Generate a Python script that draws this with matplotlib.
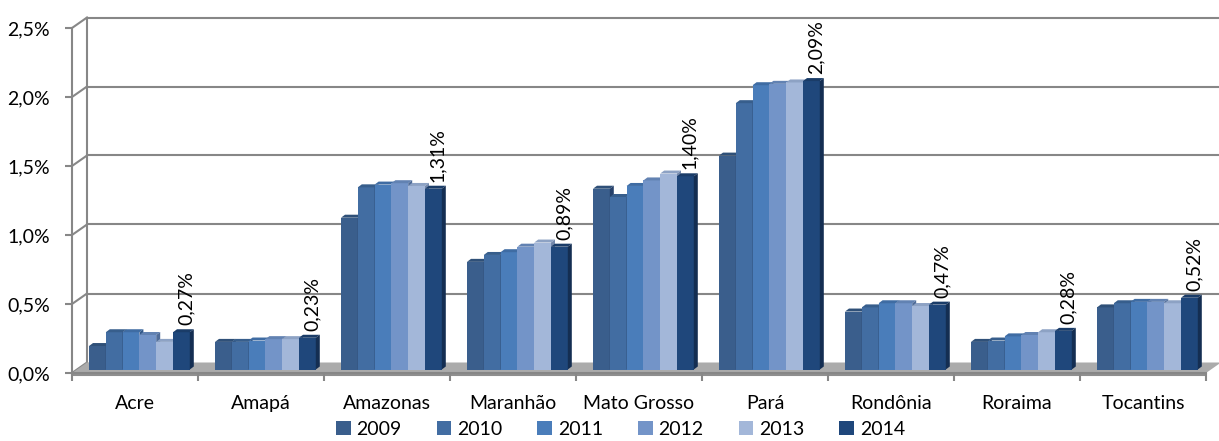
import matplotlib.pyplot as plt
from matplotlib.patches import Polygon, Patch

plt.rcParams['font.family'] = ['Lato', 'DejaVu Sans']

estados = ["Acre", "Amapá", "Amazonas", "Maranhão", "Mato Grosso",
           "Pará", "Rondônia", "Roraima", "Tocantins"]
anos = ["2009", "2010", "2011", "2012", "2013", "2014"]

v2009 = [0.17, 0.20, 1.10, 0.78, 1.31, 1.55, 0.42, 0.20, 0.45]
v2010 = [0.27, 0.20, 1.32, 0.83, 1.25, 1.93, 0.45, 0.21, 0.48]
v2011 = [0.27, 0.21, 1.34, 0.85, 1.33, 2.06, 0.48, 0.24, 0.49]
v2012 = [0.25, 0.22, 1.35, 0.89, 1.37, 2.07, 0.48, 0.25, 0.49]
v2013 = [0.20, 0.22, 1.33, 0.92, 1.42, 2.08, 0.46, 0.27, 0.48]
v2014 = [0.27, 0.23, 1.31, 0.89, 1.40, 2.09, 0.47, 0.28, 0.52]
series = [v2009, v2010, v2011, v2012, v2013, v2014]

cores = ["#3A5E8C", "#426DA2", "#4A7DBA", "#7394C8", "#A3B7D9", "#1F477B"]
cores_topo = ["#2F5078", "#375E8C", "#3F6CA3", "#6282B2", "#8DA2C4", "#1A3C68"]
cores_lado = ["#26416A", "#2C4D78", "#33598A", "#4F6C99", "#7388AB", "#142E52"]

cinza = "#878787"
fs = 14

# escala: 126 px por categoria, 138 px por 1 %
px_x = 1 / 126
px_y = 1 / 138

fig = plt.figure(figsize=(12.19, 4.41), dpi=100)
ax = fig.add_axes([72 / 1219, 68 / 441, (1219 - 72) / 1219, 373 / 441])
ax.set_xlim(0, (1219 - 72) / 126)
ax.set_ylim(0, 373 / 138)

# deslocamento da parede do fundo
dxb = 15 * px_x
dyb = 10.5 * px_y

# piso
piso = Polygon([(0, 0), (9, 0), (9 + dxb, dyb), (dxb, dyb)], closed=True,
               facecolor="#ABABAB", edgecolor="none", zorder=1)
ax.add_patch(piso)
ax.plot([0, 9], [-1.5 * px_y, -1.5 * px_y], color="#8F8F8F", lw=1.5,
        zorder=1, clip_on=False, solid_capstyle='butt')

# linhas de grade no fundo
for v in [0.5, 1.0, 1.5, 2.0, 2.5]:
    ax.plot([dxb, ax.get_xlim()[1]], [v + dyb, v + dyb], color=cinza, lw=1.5,
            zorder=0.5, clip_on=False)
    ax.plot([0, dxb], [v, v + dyb], color=cinza, lw=1.5, zorder=0.5,
            clip_on=False)
ax.plot([dxb, dxb], [dyb, 2.5 + dyb], color=cinza, lw=1.5, zorder=0.5)
ax.plot([0, dxb], [0, dyb], color=cinza, lw=1.5, zorder=0.6)

# barras em pseudo 3D
fx = 4.5 * px_x
fy = 3.5 * px_y
gap = 12.5 * px_x
w = 16.8 * px_x
ddx = 4 * px_x
ddy = 3 * px_y

for i in range(len(estados)):
    for j, vals in enumerate(series):
        x0 = i + fx + gap + w * j
        v = vals[i]
        z = 2 + j * 0.1
        ax.bar(x0, v, width=w, bottom=fy, align='edge', color=cores[j],
               edgecolor='none', zorder=z)
        topo = Polygon([(x0, fy + v), (x0 + w, fy + v),
                        (x0 + w + ddx, fy + v + ddy), (x0 + ddx, fy + v + ddy)],
                       closed=True, facecolor=cores_topo[j], edgecolor='none',
                       zorder=z)
        lado = Polygon([(x0 + w, fy), (x0 + w, fy + v),
                        (x0 + w + ddx, fy + v + ddy), (x0 + w + ddx, fy + ddy)],
                       closed=True, facecolor=cores_lado[j], edgecolor='none',
                       zorder=z)
        ax.add_patch(topo)
        ax.add_patch(lado)
    # rótulo do último ano
    x0 = i + fx + gap + w * 5
    ax.text(x0 + w - 4 * px_x, fy + v2014[i] + 7 * px_y,
            f"{v2014[i]:.2f}%".replace(".", ","), rotation=90,
            ha='center', va='bottom', fontsize=fs, color='black', zorder=5)

# eixos
for s in ['top', 'right']:
    ax.spines[s].set_visible(False)
ax.spines['left'].set_bounds(0, 2.5)
ax.spines['bottom'].set_bounds(0, 9)
for s in ['left', 'bottom']:
    ax.spines[s].set_color(cinza)
    ax.spines[s].set_linewidth(1.5)
    ax.spines[s].set_zorder(3)

ax.set_yticks([0, 0.5, 1.0, 1.5, 2.0, 2.5])
ax.set_yticklabels([f"{v:.1f}%".replace(".", ",") for v in [0, 0.5, 1.0, 1.5, 2.0, 2.5]])
ax.tick_params(axis='y', length=5, width=1.5, color=cinza, pad=11,
               labelsize=fs)

ax.set_xticks([i + 0.5 for i in range(9)])
ax.set_xticklabels(estados)
ax.set_xticks(range(10), minor=True)
ax.tick_params(axis='x', which='major', length=0, pad=16, labelsize=fs)
ax.tick_params(axis='x', which='minor', length=6, width=1.5, color=cinza)

handles = [Patch(facecolor=c, edgecolor='none') for c in cores]
fig.legend(handles, anos, loc='center', bbox_to_anchor=(0.509, 0.026),
           ncol=6, frameon=False, fontsize=fs, handlelength=0.75,
           handleheight=0.75, handletextpad=0.3, columnspacing=1.8)

fig.savefig("out.png", dpi=100)
